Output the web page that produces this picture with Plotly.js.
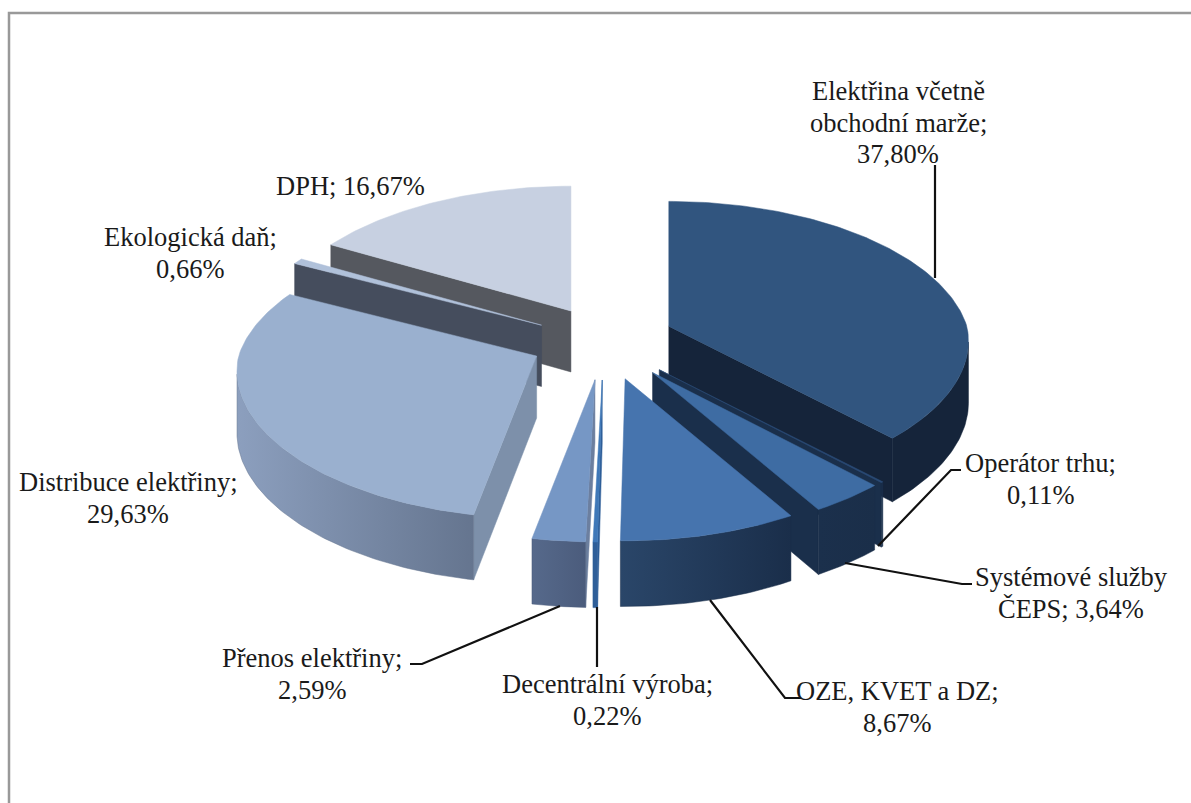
<!DOCTYPE html>
<html>
<head>
<meta charset="utf-8">
<script src="https://cdn.plot.ly/plotly-3.0.1.min.js"></script>
<style>html,body{margin:0;padding:0;background:#fff}#c{width:1191px;height:803px}</style>
</head>
<body>
<div id="c"></div>
<script>
// ---- data ----
const categories = ["Elektřina včetně<br>obchodní marže","Operátor trhu","Systémové služby<br>ČEPS","OZE, KVET a DZ","Decentrální výroba","Přenos elektřiny","Distribuce elektřiny","Ekologická daň","DPH"];
const values = [37.80,0.11,3.64,8.67,0.22,2.59,29.63,0.66,16.67];
const separators = [";<br>",";<br>","; ",";<br>",";<br>",";<br>",";<br>",";<br>","; "];
// ---- styles ----
const topColors = ["#31557f","#2a4a75","#3e6ca3","#4674ae","#3f78b8","#7697c5","#9ab0cf","#b0c1da","#c7d0e1"];
const arcLeft   = ["#15243a","#1a2f4b","#1b304c","#2a4669","#2f5f99","#56698b","#8c9fbe","#454d5d","#55585f"];
const arcRight  = ["#15243a","#1a2f4b","#1a2e49","#1a2e4a","#2f5f99","#4b5c7c","#65758f","#454d5d","#55585f"];
const faceColors= ["#15243a","#1a2f4b","#1a2f4b","#1a2e4a","#2f5f99","#6c7f9f","#7d90aa","#454d5d","#55585f"];
const paintOrder= [8,7,6,0,1,2,5,4,3];
const labelX = [898,1040,1071,897,607,312,128,190,350];
const labelY = [91,463,577,691,684,658,482,237,186];
const nudgeX = [0,0,0,0,0,0,2,-2,0];
const nudgeY = [-3,0,0,0,0,0,-3,0,0];
const LINE_PITCH=31.5, FONT_SIZE=26.5;
// ---- projection constants (pixels) ----
const CX=604, CY=343, PULLX=73, PULLXP=0.12, PULLY=37, RX=298, RY=141, PERSP=0.13, PERSPX_FRONT=0.105, PERSPX_BACK=0.15;
const rad=d=>d*Math.PI/180;
const wall=y=>61+(y-311)*0.02;
const tipOf=(m,i)=>[CX+PULLX*Math.sin(rad(m))/(1+PULLXP*Math.cos(rad(m)))+nudgeX[i], CY-PULLY*Math.cos(rad(m))+nudgeY[i]];
function rim(tip,a,r){
  const c=Math.cos(rad(a)),s=Math.sin(rad(a));
  const kx=r/(1+(c<0?PERSPX_FRONT:PERSPX_BACK)*c), ky=r/(1+PERSP*c);
  return [tip[0]+RX*s*kx,tip[1]-RY*c*ky];
}
const poly=(pts,color,grad)=>{
  const t={type:'scatter',mode:'lines',x:pts.map(p=>p[0]).concat(pts[0][0]),y:pts.map(p=>p[1]).concat(pts[0][1]),
    fill:'toself',line:{width:0.5,color:color},fillcolor:color,hoverinfo:'skip',showlegend:false};
  if(grad){t.fillgradient={type:'horizontal',colorscale:[[0,grad[0]],[1,grad[1]]]};}
  return t;
};
const down=p=>[p[0],p[1]+wall(p[1])];
const total=values.reduce((a,b)=>a+b,0);
let acc=0; const spans=values.map(v=>{const s=acc/total*360;acc+=v;return [s,acc/total*360];});
const traces=[];
paintOrder.forEach(i=>{
  const [a0,a1]=spans[i], m=(a0+a1)/2, tip=tipOf(m,i);
  const steps=Math.max(2,Math.ceil(a1-a0));
  const arc=[]; for(let k=0;k<=steps;k++){arc.push(a0+(a1-a0)*k/steps);}
  const outer=arc.map(a=>rim(tip,a,1));
  const inner=rim(tip,m,0.5), v=[inner[0]-tip[0],inner[1]-tip[1]];
  [outer[0],outer[outer.length-1]].forEach(p=>{
    const d=[p[0]-tip[0],p[1]-tip[1]], cross=d[0]*v[1]-d[1]*v[0];
    if(cross/d[0]<0){traces.push(poly([tip,p,down(p),down(tip)],faceColors[i]));}
  });
  const vis=[];
  for(let k=0;k<outer.length;k++){
    const nx=k<outer.length-1?outer[k+1][0]-outer[k][0]:outer[k][0]-outer[k-1][0];
    if(nx<0){vis.push(outer[k]);}
  }
  if(vis.length>1){
    traces.push(poly(vis.concat(vis.slice().reverse().map(down)),arcRight[i],arcLeft[i]===arcRight[i]?null:[arcLeft[i],arcRight[i]]));
  }
  traces.push(poly([tip].concat(outer),topColors[i]));
});
const annotations=[];
categories.forEach((c,i)=>{
  const text=c+separators[i]+values[i].toFixed(2).replace('.',',')+'%';
  text.split('<br>').forEach((ln,k)=>annotations.push({
    x:labelX[i],y:labelY[i]+k*LINE_PITCH,xref:'x',yref:'y',xanchor:'center',yanchor:'middle',showarrow:false,align:'center',
    text:ln,font:{family:'"Liberation Serif",serif',size:FONT_SIZE,color:'#1a1a1a'}
  }));
});
const line=(path)=>({type:'path',xref:'x',yref:'y',path:path,line:{color:'#111',width:2.2},layer:'above'});
const shapes=[
  line('M935,165 L935,278'),
  line('M961,470 L951,470 L878,546'),
  line('M972,584 L962,584 L845,563'),
  line('M801,698 L785,698 L710,600'),
  line('M597,607 L597,667'),
  line('M410,664 L422,664 L560,606'),
  {type:'path',xref:'x',yref:'y',path:'M9,803 L9,13 L1191,13',line:{color:'#999',width:2.5}}
];
Plotly.newPlot('c',traces,{
  width:1191,height:803,margin:{l:0,r:0,t:0,b:0},paper_bgcolor:'#fff',plot_bgcolor:'#fff',showlegend:false,
  xaxis:{range:[0,1191],visible:false,fixedrange:true},
  yaxis:{range:[803,0],visible:false,fixedrange:true},
  annotations:annotations,shapes:shapes
},{displayModeBar:false,staticPlot:true});
</script>
</body>
</html>
